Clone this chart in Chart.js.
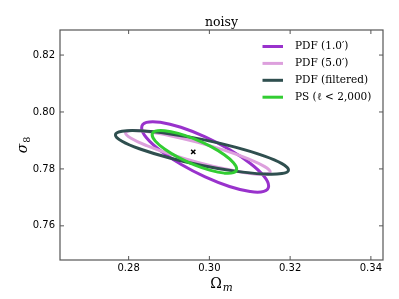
<!DOCTYPE html>
<html>
<head>
<meta charset="utf-8">
<script src="https://cdn.jsdelivr.net/npm/chart.js@4"></script>
<style>
  html, body { margin: 0; padding: 0; background: #fff; }
  canvas { display: block; }
</style>
</head>
<body>
<canvas id="chart" width="399" height="299"></canvas>
<script>
// Axis ticks
const OMEGA_TICKS = [0.28, 0.30, 0.32, 0.34];
const SIGMA_TICKS = [0.76, 0.78, 0.80, 0.82];

// Contour outlines (Omega_m, sigma_8)
const pdf1Omega = [0.31468, 0.31348, 0.31007, 0.30497, 0.29895, 0.29293, 0.28783, 0.28442, 0.28322, 0.28442, 0.28783, 0.29293, 0.29895, 0.30497, 0.31007, 0.31348];
const pdf1Sigma = [0.77403, 0.77211, 0.77205, 0.77382, 0.77719, 0.78162, 0.78645, 0.79095, 0.79441, 0.79633, 0.79639, 0.79462, 0.79125, 0.78682, 0.78199, 0.77749];

const pdf5Omega = [0.31506, 0.31370, 0.30981, 0.30401, 0.29715, 0.29029, 0.28449, 0.28060, 0.27924, 0.28060, 0.28449, 0.29029, 0.29715, 0.30401, 0.30981, 0.31370];
const pdf5Sigma = [0.77895, 0.77813, 0.77848, 0.77994, 0.78229, 0.78518, 0.78816, 0.79079, 0.79265, 0.79347, 0.79312, 0.79166, 0.78931, 0.78642, 0.78344, 0.78081];

const filtOmega = [0.31959, 0.31796, 0.31331, 0.30637, 0.29816, 0.28995, 0.28301, 0.27836, 0.27673, 0.27836, 0.28301, 0.28995, 0.29816, 0.30637, 0.31331, 0.31796];
const filtSigma = [0.77965, 0.77837, 0.77822, 0.77922, 0.78123, 0.78394, 0.78692, 0.78973, 0.79195, 0.79323, 0.79338, 0.79238, 0.79037, 0.78766, 0.78468, 0.78187];

const psOmega = [0.30676, 0.30596, 0.30369, 0.30030, 0.29629, 0.29228, 0.28889, 0.28662, 0.28582, 0.28662, 0.28889, 0.29228, 0.29629, 0.30030, 0.30369, 0.30596];
const psSigma = [0.78000, 0.77870, 0.77852, 0.77947, 0.78141, 0.78405, 0.78698, 0.78976, 0.79196, 0.79326, 0.79344, 0.79249, 0.79055, 0.78791, 0.78498, 0.78220];

// Fiducial cosmology marker
const fidOmega = [0.296];
const fidSigma = [0.786];

const LABELS = ['PDF (1.0\u2032)', 'PDF (5.0\u2032)', 'PDF (filtered)', 'PS (\u2113 < 2,000)'];
const COLORS = ['#9932cc', '#dda0dd', '#2f4f4f', '#32cd32'];

// Closed loop: wrap one point at each end so the spline is smooth at the seam,
// then hide the two wrap segments
function loopDataset(label, color, xs, ys, order) {
  const n = xs.length;
  const idx = [n - 1].concat(xs.map((_, i) => i), [0, 1]);
  return {
    label: label,
    data: idx.map(i => ({ x: xs[i], y: ys[i] })),
    showLine: true,
    borderColor: color,
    borderWidth: 3,
    pointRadius: 0,
    tension: 0.4,
    fill: false,
    order: order,
    segment: {
      borderColor: ctx => (ctx.p0DataIndex === 0 || ctx.p0DataIndex === n + 1) ? 'rgba(0,0,0,0)' : undefined
    }
  };
}

// draws "main" followed by a lowered, smaller subscript, centred on 0,0
function drawSubscripted(ctx, main, mainFont, sub, subFont) {
  ctx.font = mainFont;
  const w1 = ctx.measureText(main).width;
  ctx.font = subFont;
  const w2 = ctx.measureText(sub).width;
  const x0 = -(w1 + w2 + 1) / 2;
  ctx.textAlign = 'left';
  ctx.textBaseline = 'alphabetic';
  ctx.font = mainFont;
  ctx.fillText(main, x0, 5);
  ctx.font = subFont;
  ctx.fillText(sub, x0 + w1 + 1, 8);
}

// Frame, inward ticks on all sides, axis labels and the legend box
const framePlugin = {
  id: 'frame',
  afterDraw(chart) {
    const { ctx, chartArea: a, scales: { x, y } } = chart;
    ctx.save();
    ctx.strokeStyle = '#555';
    ctx.lineWidth = 1.2;
    ctx.strokeRect(a.left, a.top, a.right - a.left, a.bottom - a.top);

    ctx.beginPath();
    OMEGA_TICKS.forEach(v => {
      const px = x.getPixelForValue(v);
      ctx.moveTo(px, a.bottom); ctx.lineTo(px, a.bottom - 4);
      ctx.moveTo(px, a.top); ctx.lineTo(px, a.top + 4);
    });
    SIGMA_TICKS.forEach(v => {
      const py = y.getPixelForValue(v);
      ctx.moveTo(a.left, py); ctx.lineTo(a.left + 4, py);
      ctx.moveTo(a.right, py); ctx.lineTo(a.right - 4, py);
    });
    ctx.lineWidth = 1;
    ctx.stroke();

    // axis labels
    ctx.fillStyle = '#000';
    ctx.save();
    ctx.translate((a.left + a.right) / 2, 283);
    drawSubscripted(ctx, '\u03a9', '14px "DejaVu Serif"', 'm', 'italic 10.5px "DejaVu Serif"');
    ctx.restore();
    ctx.save();
    ctx.translate(22, (a.top + a.bottom) / 2);
    ctx.rotate(-Math.PI / 2);
    drawSubscripted(ctx, '\u03c3', 'italic 14px "DejaVu Serif"', '8', '9.5px "DejaVu Serif"');
    ctx.restore();

    // legend
    ctx.font = '10.5px "DejaVu Serif"';
    ctx.textBaseline = 'middle';
    ctx.textAlign = 'left';
    LABELS.forEach((label, i) => {
      const rowY = 46.5 + i * 16.9;
      ctx.beginPath();
      ctx.strokeStyle = COLORS[i];
      ctx.lineWidth = 3;
      ctx.moveTo(262.5, rowY);
      ctx.lineTo(283, rowY);
      ctx.stroke();
      ctx.fillText(label, 295, rowY);
    });
    ctx.restore();
  }
};

const ctx = document.getElementById('chart').getContext('2d');

new Chart(ctx, {
  type: 'scatter',
  data: {
    datasets: [
      loopDataset(LABELS[0], COLORS[0], pdf1Omega, pdf1Sigma, 4),
      loopDataset(LABELS[1], COLORS[1], pdf5Omega, pdf5Sigma, 3),
      loopDataset(LABELS[2], COLORS[2], filtOmega, filtSigma, 2),
      loopDataset(LABELS[3], COLORS[3], psOmega, psSigma, 1),
      {
        label: 'fiducial',
        data: fidOmega.map((v, i) => ({ x: v, y: fidSigma[i] })),
        pointStyle: 'crossRot',
        pointRadius: 3,
        borderColor: '#000',
        borderWidth: 1.5,
        order: 0
      }
    ]
  },
  options: {
    responsive: false,
    animation: false,
    layout: { padding: { left: 0, right: 16, top: 0, bottom: 0 } },
    plugins: {
      legend: { display: false },
      tooltip: { enabled: false },
      title: {
        display: true,
        text: 'noisy',
        fullSize: false,
        color: '#000',
        font: { family: 'DejaVu Serif', size: 12.5, weight: 'normal', lineHeight: 1.2 },
        padding: { top: 15, bottom: 0 }
      }
    },
    scales: {
      x: {
        type: 'linear',
        min: 0.263,
        max: 0.343,
        grid: { display: false, drawTicks: false },
        border: { display: false },
        afterBuildTicks: scale => { scale.ticks = OMEGA_TICKS.map(v => ({ value: v })); },
        afterFit: scale => { scale.height = 39; },
        ticks: {
          color: '#000',
          padding: 2,
          maxRotation: 0,
          font: { family: 'DejaVu Sans', size: 10 },
          callback: v => v.toFixed(2)
        }
      },
      y: {
        type: 'linear',
        min: 0.748,
        max: 0.8288,
        grid: { display: false, drawTicks: false },
        border: { display: false },
        afterBuildTicks: scale => { scale.ticks = SIGMA_TICKS.map(v => ({ value: v })); },
        afterFit: scale => { scale.width = 60; },
        ticks: {
          color: '#000',
          padding: 5,
          font: { family: 'DejaVu Sans', size: 10 },
          callback: v => v.toFixed(2)
        }
      }
    }
  },
  plugins: [framePlugin]
});
</script>
</body>
</html>
